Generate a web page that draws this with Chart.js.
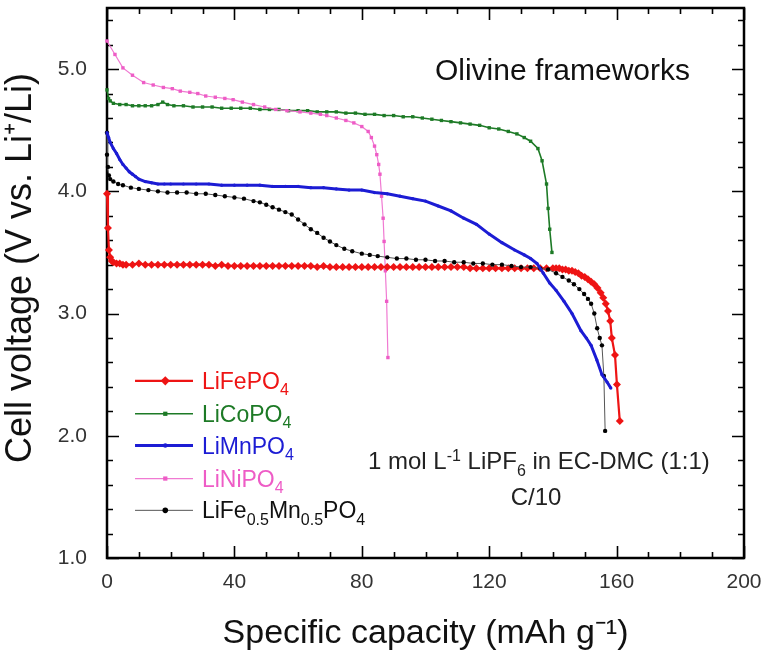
<!DOCTYPE html>
<html><head><meta charset="utf-8">
<script src="https://cdn.jsdelivr.net/npm/chart.js@4.4.1/dist/chart.umd.min.js"></script>
<style>html,body{margin:0;padding:0;background:#fff;}</style>
</head><body>
<canvas id="c" width="768" height="664" style="width:768px;height:664px;display:block"></canvas>
<script>
// ---- Data (capacity in mAh/g, voltage in V) ----
const seriesNames = ['LiFePO4','LiCoPO4','LiMnPO4','LiNiPO4','LiFe0.5Mn0.5PO4'];
const xTicks = [0,40,80,120,160,200];
const yTicks = [1.0,2.0,3.0,4.0,5.0];

const feCap = [0,0.3,0.6,1,1.5,2,3,4,5,6,
  8,10,12,14,16,18,20,22,24,26,
  28,30,32,34,36,38,40,42,44,46,
  48,50,52,54,56,58,60,62,64,66,
  68,70,72,74,76,78,80,82,84,86,
  88,90,92,94,96,98,100,102,104,106,
  108,110,112,114,116,118,120,122,124,126,
  128,130,132,134,136,138,140,141,142,143,
  144,145,146,147,148,149,150,151,152,153,
  154,155,155.8,156.6,157.3,158,158.5,159.5,160.1,161];
const feV = [3.98,3.70,3.52,3.46,3.43,3.42,3.41,3.41,3.40,3.40,
  3.40,3.41,3.40,3.40,3.40,3.40,3.40,3.40,3.40,3.40,
  3.40,3.40,3.40,3.39,3.40,3.39,3.39,3.39,3.39,3.39,
  3.39,3.39,3.39,3.39,3.39,3.39,3.39,3.39,3.39,3.38,
  3.39,3.38,3.38,3.38,3.38,3.38,3.38,3.38,3.38,3.38,
  3.38,3.38,3.38,3.38,3.38,3.38,3.38,3.38,3.38,3.38,
  3.38,3.38,3.38,3.37,3.37,3.37,3.37,3.37,3.37,3.37,
  3.37,3.37,3.37,3.37,3.37,3.37,3.37,3.37,3.37,3.36,
  3.36,3.35,3.35,3.34,3.33,3.31,3.30,3.28,3.26,3.24,
  3.21,3.17,3.13,3.08,3.02,2.94,2.80,2.66,2.42,2.12];

const coCap = [0,0.5,1,2,4,6,8,10,12,14,
  16,17.5,19,21,24,27,30,33,36,39,
  42,45,48,51,54,57,60,63,66,69,
  72,75,78,81,84,87,90,93,96,99,
  102,105,108,111,114,117,120,123,126,128.7,
  131,133,135.3,136.6,138,138.5,139,139.7];
const coV = [4.83,4.76,4.74,4.72,4.71,4.71,4.70,4.70,4.70,4.70,
  4.71,4.73,4.71,4.70,4.70,4.69,4.69,4.69,4.68,4.68,
  4.68,4.68,4.67,4.67,4.67,4.66,4.66,4.66,4.65,4.65,
  4.65,4.64,4.64,4.63,4.63,4.62,4.62,4.61,4.61,4.60,
  4.59,4.58,4.57,4.56,4.55,4.54,4.52,4.51,4.49,4.47,
  4.44,4.41,4.35,4.25,4.06,3.86,3.69,3.50];

const mnCap = [0,0.5,1,2,3,4,5,6,7,8,
  9,10,12,14,16,18,20,24,28,32,
  36,40,44,48,52,56,60,64,68,72,
  76,80,84,88,92,96,100,104,108,112,
  116,120,124,128,131,133,135,137,139,141,
  143.5,146,148.8,150.5,152,153.8,155.4,157,158.2];
const mnV = [4.48,4.44,4.40,4.35,4.31,4.26,4.22,4.19,4.16,4.14,
  4.12,4.10,4.08,4.07,4.06,4.06,4.06,4.06,4.06,4.06,
  4.05,4.05,4.05,4.05,4.04,4.04,4.04,4.03,4.03,4.02,
  4.01,4.01,3.99,3.98,3.96,3.94,3.92,3.88,3.84,3.78,
  3.73,3.65,3.58,3.52,3.48,3.45,3.41,3.33,3.25,3.19,
  3.10,3.00,2.86,2.80,2.74,2.62,2.50,2.44,2.39];

const niCap = [0,2.5,5,8,11.5,14.5,17.7,20.5,23,26,
  28.5,31,34,37,39.6,42.5,46,49.5,53,56.5,
  60.6,64,67,69,72,75,77.5,80,82,83,
  84,84.7,85.3,85.7,86.2,86.7,87,87.4,87.8,88.2];
const niV = [5.23,5.12,5.01,4.95,4.89,4.87,4.85,4.84,4.82,4.81,
  4.80,4.78,4.77,4.76,4.75,4.73,4.71,4.69,4.67,4.66,
  4.65,4.64,4.63,4.62,4.60,4.58,4.56,4.53,4.49,4.44,
  4.37,4.30,4.22,4.14,3.96,3.78,3.59,3.35,3.10,2.64];

const lfmCap = [0,0,0.3,0.6,1,2,3.5,5,7.5,10,
  13,16,19,22,25,28,31,34,37,40,
  43,46,48,50,52,54,56,58,60,62,
  64,66,68,70,72,74.5,77,80,82.5,85,
  88,91,94,97,100,103,106,109,112,115,
  118,121,124,127,130,133,136,138.5,141,143,
  145,146.6,148.3,149.8,151,152,153,153.9,154.7,155.4,
  156,156.4];
const lfmV = [4.48,4.30,4.20,4.13,4.10,4.08,4.06,4.05,4.03,4.02,
  4.01,4.00,3.99,3.99,3.99,3.98,3.98,3.97,3.96,3.95,
  3.94,3.92,3.91,3.89,3.87,3.85,3.83,3.81,3.77,3.73,
  3.69,3.66,3.62,3.59,3.56,3.53,3.51,3.49,3.48,3.47,
  3.46,3.45,3.45,3.44,3.44,3.43,3.43,3.42,3.42,3.41,
  3.41,3.40,3.40,3.39,3.38,3.38,3.37,3.36,3.33,3.30,
  3.27,3.24,3.20,3.16,3.12,3.08,3.00,2.88,2.80,2.74,
  2.49,2.04];

const FONT = "'Liberation Sans', Arial, Helvetica, sans-serif";
const pts = (xs, ys) => xs.map((c, i) => ({x: c, y: ys[i]}));

const styles = [
  {color:'#ee1414', line:'#ee1414', width:2.2, style:'rectRot', r:4, order:3},
  {color:'#1d7a26', line:'#1d7a26', width:1.6, style:'rect', r:2.4, order:5},
  {color:'#1c1cd4', line:'#1c1cd4', width:3, style:'circle', r:1.6, order:1},
  {color:'#ee5cc6', line:'#f07ad2', width:1.2, style:'rect', r:2.4, order:4},
  {color:'#000000', line:'#555555', width:1, style:'circle', r:2.2, order:2}
];
const rawData = [pts(feCap, feV), pts(coCap, coV), pts(mnCap, mnV), pts(niCap, niV), pts(lfmCap, lfmV)];

const datasets = rawData.map((d, i) => ({
  label: seriesNames[i],
  data: d,
  showLine: true,
  borderColor: styles[i].line,
  borderWidth: styles[i].width,
  backgroundColor: styles[i].color,
  pointBackgroundColor: styles[i].color,
  pointBorderColor: styles[i].color,
  pointBorderWidth: 0,
  pointStyle: styles[i].style,
  pointRadius: styles[i].r,
  pointHoverRadius: styles[i].r,
  tension: 0,
  clip: false,
  order: styles[i].order
}));

const legendLabels = [
  [['LiFePO','n'],['4','sub']],
  [['LiCoPO','n'],['4','sub']],
  [['LiMnPO','n'],['4','sub']],
  [['LiNiPO','n'],['4','sub']],
  [['LiFe','n'],['0.5','sub'],['Mn','n'],['0.5','sub'],['PO','n'],['4','sub']]
];
const legendRowsV = [2.45, 2.18, 1.92, 1.65, 1.39];

function rich(ctx, x, y, parts, size, color, align) {
  const small = Math.round(size * 0.68);
  let w = 0;
  parts.forEach(([t, m]) => { ctx.font = (m === 'n' ? size : small) + 'px ' + FONT; w += ctx.measureText(t).width; });
  let cx = align === 'center' ? x - w / 2 : x;
  ctx.fillStyle = color; ctx.textBaseline = 'alphabetic'; ctx.textAlign = 'left';
  parts.forEach(([t, m]) => {
    ctx.font = (m === 'n' ? size : small) + 'px ' + FONT;
    const dy = m === 'sub' ? size * 0.27 : (m === 'sup' ? -size * 0.36 : 0);
    ctx.fillText(t, cx, y + dy);
    cx += ctx.measureText(t).width;
  });
}

const framePlugin = {
  id: 'frame',
  beforeDatasetsDraw(chart) {
    const {ctx, chartArea: a, scales: {x, y}} = chart;
    ctx.save();
    ctx.strokeStyle = '#000';
    ctx.lineWidth = 1.6;
    ctx.beginPath();
    for (let v = 0; v <= 200; v += 10) {
      const px = Math.round(x.getPixelForValue(v)) + 0.5;
      const L = v % 40 === 0 ? 12 : 6;
      ctx.moveTo(px, a.bottom); ctx.lineTo(px, a.bottom - L);
      ctx.moveTo(px, a.top); ctx.lineTo(px, a.top + L);
    }
    for (let k = 10; k <= 54; k += 2) {
      const py = Math.round(y.getPixelForValue(k / 10)) + 0.5;
      const L = k % 10 === 0 ? 12 : 6;
      ctx.moveTo(a.left, py); ctx.lineTo(a.left + L, py);
      ctx.moveTo(a.right, py); ctx.lineTo(a.right - L, py);
    }
    ctx.stroke();
    ctx.lineWidth = 2.5;
    ctx.strokeRect(a.left, a.top, a.right - a.left, a.bottom - a.top);
    ctx.restore();
  },
  afterDraw(chart) {
    const {ctx, scales: {x, y}} = chart;
    ctx.save();
    rich(ctx, x.getPixelForValue(143), y.getPixelForValue(4.915), [['Olivine frameworks','n']], 30, '#111', 'center');
    rich(ctx, x.getPixelForValue(135.6), y.getPixelForValue(1.726),
      [['1 mol L','n'],['-1','sup'],[' LiPF','n'],['6','sub'],[' in EC-DMC (1:1)','n']], 24, '#222', 'center');
    rich(ctx, x.getPixelForValue(134.7), y.getPixelForValue(1.432), [['C/10','n']], 24, '#222', 'center');
    const x0 = x.getPixelForValue(8.8), x1 = x.getPixelForValue(27.0), xm = x.getPixelForValue(18.3), xt = x.getPixelForValue(29.8);
    legendLabels.forEach((parts, i) => {
      const s = styles[i];
      const py = y.getPixelForValue(legendRowsV[i]);
      ctx.strokeStyle = s.line; ctx.lineWidth = s.width;
      ctx.beginPath(); ctx.moveTo(x0, py); ctx.lineTo(x1, py); ctx.stroke();
      ctx.fillStyle = s.color; ctx.strokeStyle = s.color;
      Chart.helpers.drawPoint(ctx, {pointStyle: s.style, radius: s.r + 0.6, rotation: 0, borderWidth: 0}, xm, py);
      rich(ctx, xt, py + 8, parts, 23, i === 4 ? '#111' : s.color, 'left');
    });
    ctx.restore();
  }
};

new Chart(document.getElementById('c'), {
  type: 'scatter',
  data: {datasets},
  plugins: [framePlugin],
  options: {
    responsive: false,
    animation: false,
    devicePixelRatio: 1,
    layout: {padding: {left: 0, right: 24, top: 8, bottom: 0}},
    plugins: {legend: {display: false}, tooltip: {enabled: false}},
    scales: {
      x: {
        type: 'linear', min: 0, max: 200,
        afterBuildTicks: (s) => { s.ticks = xTicks.map(v => ({value: v})); },
        afterFit: (s) => { s.height = 106; s.paddingLeft = 0; s.paddingRight = 0; },
        grid: {display: false, drawTicks: false},
        border: {display: false},
        ticks: {padding: 12, color: '#333', font: {family: FONT, size: 21}, callback: v => String(v)},
        title: {display: true, text: 'Specific capacity (mAh g⁻¹)', color: '#111', font: {family: FONT, size: 34}, padding: {top: 19, bottom: 10}}
      },
      y: {
        type: 'linear', min: 1.0, max: 5.5,
        afterBuildTicks: (s) => { s.ticks = yTicks.map(v => ({value: v})); },
        afterFit: (s) => { s.width = 107; s.paddingTop = 0; s.paddingBottom = 0; },
        grid: {display: false, drawTicks: false},
        border: {display: false},
        ticks: {padding: 20, color: '#333', font: {family: FONT, size: 21}, callback: v => Number(v).toFixed(1)},
        title: {display: true, text: '   Cell voltage (V vs. Li⁺/Li)', color: '#111', font: {family: FONT, size: 36}, padding: {top: -1, bottom: 17}}
      }
    }
  }
});
</script>
</body></html>
